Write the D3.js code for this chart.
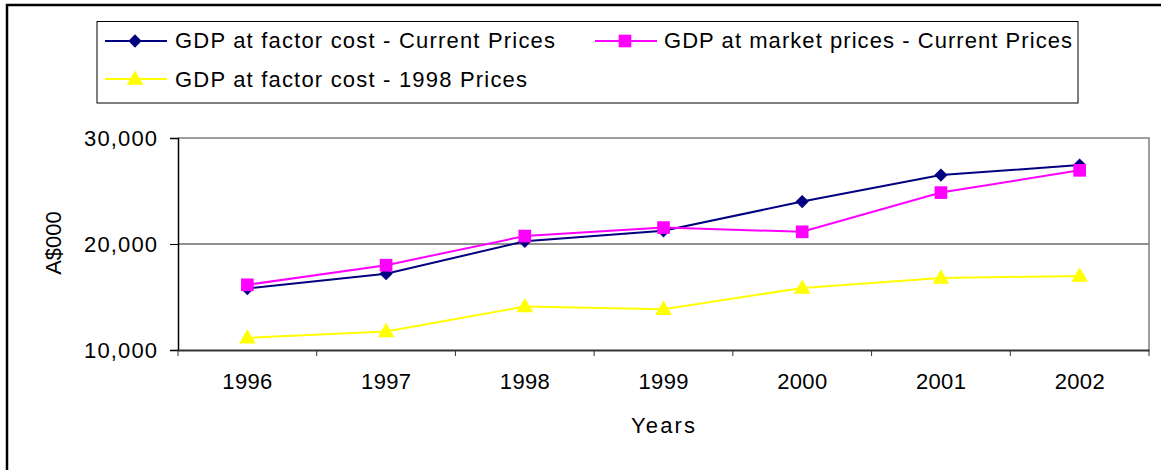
<!DOCTYPE html>
<html>
<head>
<meta charset="utf-8">
<script src="https://cdn.jsdelivr.net/npm/d3@7"></script>
<style>
  html, body { margin: 0; padding: 0; background: #fff; }
  svg { display: block; font-family: "Liberation Sans", Arial, sans-serif; }
</style>
</head>
<body>
<svg id="chart" width="1161" height="470"></svg>
<script>
// ---- Data ----
const years = ["1996", "1997", "1998", "1999", "2000", "2001", "2002"];
const factorCurrent = [15800, 17200, 20250, 21250, 24000, 26500, 27450];
const marketCurrent = [16150, 18000, 20750, 21550, 21150, 24850, 26950];
const factor1998 = [11150, 11750, 14100, 13850, 15850, 16800, 16980];
const yTicks = [10000, 20000, 30000];
const seriesNames = [
  "GDP at factor cost - Current Prices",
  "GDP at market prices - Current Prices",
  "GDP at factor cost - 1998 Prices"
];

const svg = d3.select("#chart");
const W = 1161, H = 470;
const plot = { left: 178, right: 1149, top: 138, bottom: 350 };

// outer frame (left and top)
svg.append("line").attr("x1", 7).attr("x2", 7).attr("y1", 4).attr("y2", H)
  .attr("stroke", "#000").attr("stroke-width", 2.5);
svg.append("line").attr("x1", 6).attr("x2", W).attr("y1", 5).attr("y2", 5)
  .attr("stroke", "#000").attr("stroke-width", 2.5);

const x = d3.scaleBand().domain(years).range([plot.left, plot.right]).padding(0);
const y = d3.scaleLinear().domain([10000, 30000]).range([plot.bottom, plot.top]);
const cx = d => x(d) + x.bandwidth() / 2;

// gridlines
svg.append("g").selectAll("line").data(yTicks.filter(v => v > 10000 && v < 30000)).join("line")
  .attr("x1", plot.left).attr("x2", plot.right)
  .attr("y1", d => y(d)).attr("y2", d => y(d))
  .attr("stroke", "#222").attr("stroke-width", 1);

// plot border: top + right grey
svg.append("path")
  .attr("d", `M${plot.left},${y(30000)}H${plot.right}V${plot.bottom}`)
  .attr("fill", "none").attr("stroke", "#808080").attr("stroke-width", 1.5);

// Y axis
const yAxis = svg.append("g").attr("transform", `translate(${plot.left},0)`)
  .call(d3.axisLeft(y).tickValues(yTicks).tickFormat(d3.format(",")).tickSize(8).tickPadding(13));
yAxis.select(".domain").attr("stroke", "#000").attr("stroke-width", 1.5);
yAxis.selectAll(".tick line").attr("stroke", "#000").attr("stroke-width", 1);
yAxis.selectAll("text").attr("font-size", 22).attr("fill", "#000")
  .attr("font-family", "Liberation Sans, Arial, sans-serif")
  .attr("textLength", 73).attr("lengthAdjust", "spacing");

// X axis
const xAxis = svg.append("g").attr("transform", `translate(0,${plot.bottom})`)
  .call(d3.axisBottom(x).tickSize(0).tickPadding(23));
xAxis.select(".domain").attr("stroke", "#333").attr("stroke-width", 2);
xAxis.selectAll("text").attr("font-size", 22).attr("fill", "#000")
  .attr("font-family", "Liberation Sans, Arial, sans-serif")
  .attr("textLength", 50).attr("lengthAdjust", "spacing");
// boundary ticks
const bounds = years.map(d => x(d)).concat([x(years[years.length - 1]) + x.step()]);
svg.append("g").selectAll("line").data(bounds).join("line")
  .attr("x1", d => d).attr("x2", d => d)
  .attr("y1", plot.bottom).attr("y2", plot.bottom + 6)
  .attr("stroke", "#333").attr("stroke-width", 1);

// axis titles
svg.append("text").attr("x", 663).attr("y", 433).attr("text-anchor", "middle")
  .attr("font-size", 22).attr("textLength", 64).attr("lengthAdjust", "spacing").text("Years");
svg.append("text").attr("transform", "translate(61,243) rotate(-90)").attr("text-anchor", "middle")
  .attr("font-size", 22).text("A$000");

// series
const series = [
  { name: seriesNames[0], values: factorCurrent, color: "#000080", marker: "diamond" },
  { name: seriesNames[1], values: marketCurrent, color: "#FF00FF", marker: "square" },
  { name: seriesNames[2], values: factor1998, color: "#FFFF00", marker: "triangle" }
];
const symType = { diamond: d3.symbolSquare, square: d3.symbolSquare, triangle: d3.symbolTriangle };
const symSize = { diamond: 88, square: 160, triangle: 120 };
const symRot = { diamond: 45, square: 0, triangle: 0 };
const symDy = { diamond: 0, square: 0, triangle: 1 };
function markerPath(m) { return d3.symbol().type(symType[m]).size(symSize[m])(); }
function markerTf(m, px, py) { return `translate(${px},${py + symDy[m]}) rotate(${symRot[m]})`; }

const line = d3.line().x((d, i) => cx(years[i])).y(d => y(d));
const drawOrder = [2, 0, 1];
drawOrder.forEach(k => {
  const s = series[k];
  const g = svg.append("g");
  g.append("path").datum(s.values).attr("d", line)
    .attr("fill", "none").attr("stroke", s.color).attr("stroke-width", 2);
  g.selectAll("path.m").data(s.values).join("path").attr("class", "m")
    .attr("d", markerPath(s.marker))
    .attr("transform", (d, i) => markerTf(s.marker, cx(years[i]), y(d)))
    .attr("fill", s.color);
});

// legend
svg.append("rect").attr("x", 97).attr("y", 21.5).attr("width", 981).attr("height", 81.5)
  .attr("fill", "none").attr("stroke", "#000").attr("stroke-width", 1);
const legendPos = [
  { lx1: 105, lx2: 167, mx: 135, tx: 175, y: 41, base: 48, len: 380 },
  { lx1: 595, lx2: 657, mx: 625, tx: 664, y: 41, base: 48, len: 408 },
  { lx1: 105, lx2: 167, mx: 135, tx: 175, y: 79, base: 87, len: 352 }
];
series.forEach((s, i) => {
  const p = legendPos[i];
  const g = svg.append("g");
  g.append("line").attr("x1", p.lx1).attr("x2", p.lx2).attr("y1", p.y).attr("y2", p.y)
    .attr("stroke", s.color).attr("stroke-width", 2);
  g.append("path").attr("d", markerPath(s.marker))
    .attr("transform", markerTf(s.marker, p.mx, p.y))
    .attr("fill", s.color);
  g.append("text").attr("x", p.tx).attr("y", p.base).attr("font-size", 22)
    .attr("textLength", p.len).attr("lengthAdjust", "spacing").text(s.name);
});
</script>
</body>
</html>
